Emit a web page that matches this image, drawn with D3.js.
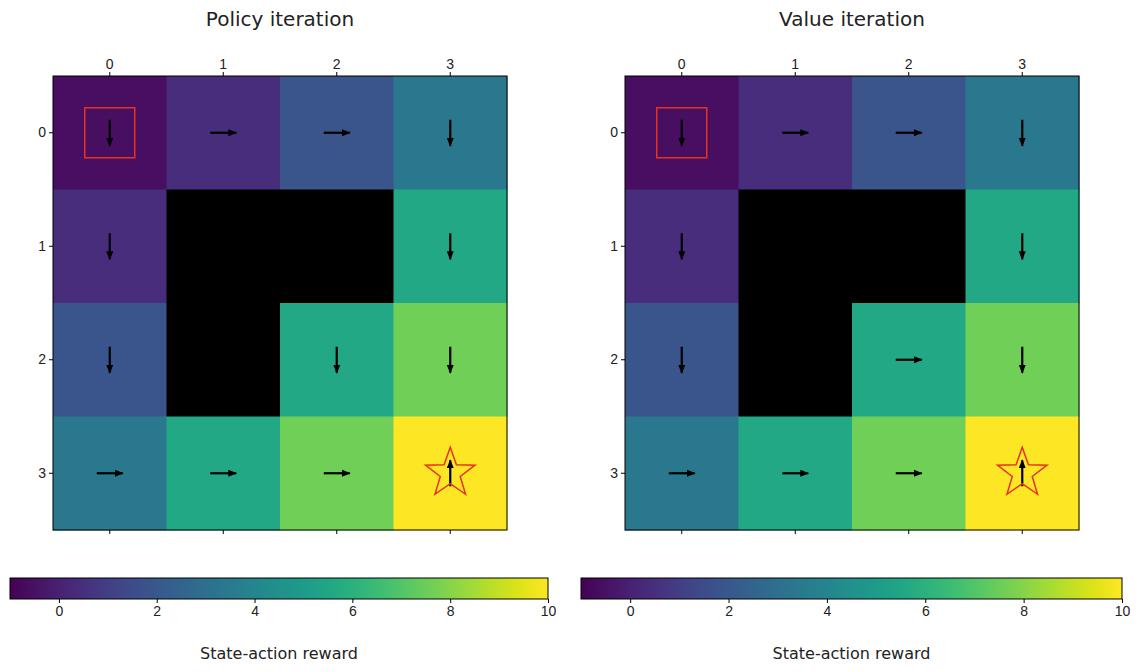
<!DOCTYPE html>
<html><head><meta charset="utf-8">
<script src="https://cdn.jsdelivr.net/npm/d3@7"></script>
<style>body{margin:0;background:#fff;font-family:"DejaVu Sans",sans-serif}</style>
</head><body><svg id="c" width="1140" height="672"></svg>
<script>
const titles = ["Policy iteration", "Value iteration"];
const ticks = [0, 1, 2, 3];
// state values (null = wall)
const values = [
  [-0.6, 0.4, 1.9, 3.4],
  [0.4, null, null, 5.6],
  [1.9, null, 5.6, 7.6],
  [3.4, 5.6, 7.6, 10]
];
// actions: d=down r=right u=up
const policyActs = [
  ["d", "r", "r", "d"],
  ["d", null, null, "d"],
  ["d", null, "d", "d"],
  ["r", "r", "r", "u"]
];
const valueActs = [
  ["d", "r", "r", "d"],
  ["d", null, null, "d"],
  ["d", null, "r", "d"],
  ["r", "r", "r", "u"]
];
const cbTicks = [0, 2, 4, 6, 8, 10];

const svg = d3.select("#c");
const color = d3.scaleSequential(d3.interpolateViridis).domain([-1, 10]);

svg.append("defs").append("marker").attr("id", "ah")
  .attr("viewBox", "0 0 10 10").attr("refX", 9).attr("refY", 5)
  .attr("markerWidth", 4).attr("markerHeight", 4).attr("orient", "auto")
  .append("path").attr("d", "M0,1 L10,5 L0,9 Z").attr("fill", "#000");

const panels = [
  {x0: 53, acts: policyActs, cb: [10, 548]},
  {x0: 625, acts: valueActs, cb: [581, 1122]}
];
const size = 454, y0 = 76;

panels.forEach((p, k) => {
  const x = d3.scaleBand().domain(ticks).range([p.x0, p.x0 + size]);
  const y = d3.scaleBand().domain(ticks).range([y0, y0 + size]);
  const g = svg.append("g");
  const cells = [];
  values.forEach((row, r) => row.forEach((v, c) => cells.push({r, c, v, a: p.acts[r][c]})));
  g.selectAll("rect.cell").data(cells).enter().append("rect")
    .attr("x", d => x(d.c)).attr("y", d => y(d.r))
    .attr("width", x.bandwidth() + 0.5).attr("height", y.bandwidth() + 0.5)
    .attr("fill", d => d.v === null ? "#000" : color(d.v));
  g.append("rect").attr("x", p.x0).attr("y", y0).attr("width", size).attr("height", size)
    .attr("fill", "none").attr("stroke", "#000");
  const L = 13;
  const dir = {d: [0, 1], r: [1, 0], u: [0, -1]};
  g.selectAll("line.ar").data(cells.filter(d => d.a)).enter().append("line")
    .attr("x1", d => x(d.c) + x.bandwidth() / 2 - dir[d.a][0] * L)
    .attr("y1", d => y(d.r) + y.bandwidth() / 2 - dir[d.a][1] * L)
    .attr("x2", d => x(d.c) + x.bandwidth() / 2 + dir[d.a][0] * L)
    .attr("y2", d => y(d.r) + y.bandwidth() / 2 + dir[d.a][1] * L)
    .attr("stroke", "#000").attr("stroke-width", 2.2).attr("marker-end", "url(#ah)");
  // start square
  g.append("rect").attr("x", x(0) + x.bandwidth() / 2 - 25).attr("y", y(0) + y.bandwidth() / 2 - 25)
    .attr("width", 50).attr("height", 50).attr("fill", "none").attr("stroke", "#e8321e").attr("stroke-width", 1.5);
  // goal star
  const cx = x(3) + x.bandwidth() / 2, cy = y(3) + y.bandwidth() / 2;
  const pts = d3.range(10).map(i => {
    const rr = i % 2 ? 10.5 : 26, a = -Math.PI / 2 + i * Math.PI / 5;
    return [cx + rr * Math.cos(a), cy + rr * Math.sin(a)];
  });
  g.append("path").attr("d", d3.line()(pts) + "Z").attr("fill", "none")
    .attr("stroke", "#e8321e").attr("stroke-width", 1.5);

  const ax = svg.append("g").attr("transform", `translate(0,${y0})`)
    .call(d3.axisTop(x).tickSizeOuter(0).tickSize(4));
  const ay = svg.append("g").attr("transform", `translate(${p.x0},0)`)
    .call(d3.axisLeft(y).tickSizeOuter(0).tickSize(4));
  const axb = svg.append("g").attr("transform", `translate(0,${y0 + size})`)
    .call(d3.axisBottom(x).tickSizeOuter(0).tickSize(4).tickFormat(""));
  [ax, ay, axb].forEach(a => { a.select(".domain").remove(); a.selectAll("text").attr("font-size", 14).attr("fill", "#222"); });
  svg.append("text").attr("x", p.x0 + size / 2).attr("y", 26).attr("text-anchor", "middle")
    .attr("font-size", 20).attr("fill", "#222").text(titles[k]);

  // colorbar
  const cbx = d3.scaleLinear().domain([-1, 10]).range(p.cb);
  const gid = "grad" + k;
  const grad = svg.select("defs").append("linearGradient").attr("id", gid);
  d3.range(0, 1.0001, 0.05).forEach(t => grad.append("stop")
    .attr("offset", t).attr("stop-color", color(-1 + 11 * t)));
  svg.append("rect").attr("x", p.cb[0]).attr("y", 578).attr("width", p.cb[1] - p.cb[0]).attr("height", 21)
    .attr("fill", `url(#${gid})`).attr("stroke", "#000");
  const cba = svg.append("g").attr("transform", "translate(0,599)")
    .call(d3.axisBottom(cbx).tickValues(cbTicks).tickSize(4).tickSizeOuter(0));
  cba.select(".domain").remove();
  cba.selectAll("text").attr("font-size", 14).attr("fill", "#222");
  svg.append("text").attr("x", (p.cb[0] + p.cb[1]) / 2).attr("y", 659).attr("text-anchor", "middle")
    .attr("font-size", 16).attr("fill", "#222").text("State-action reward");
});
</script></body></html>
